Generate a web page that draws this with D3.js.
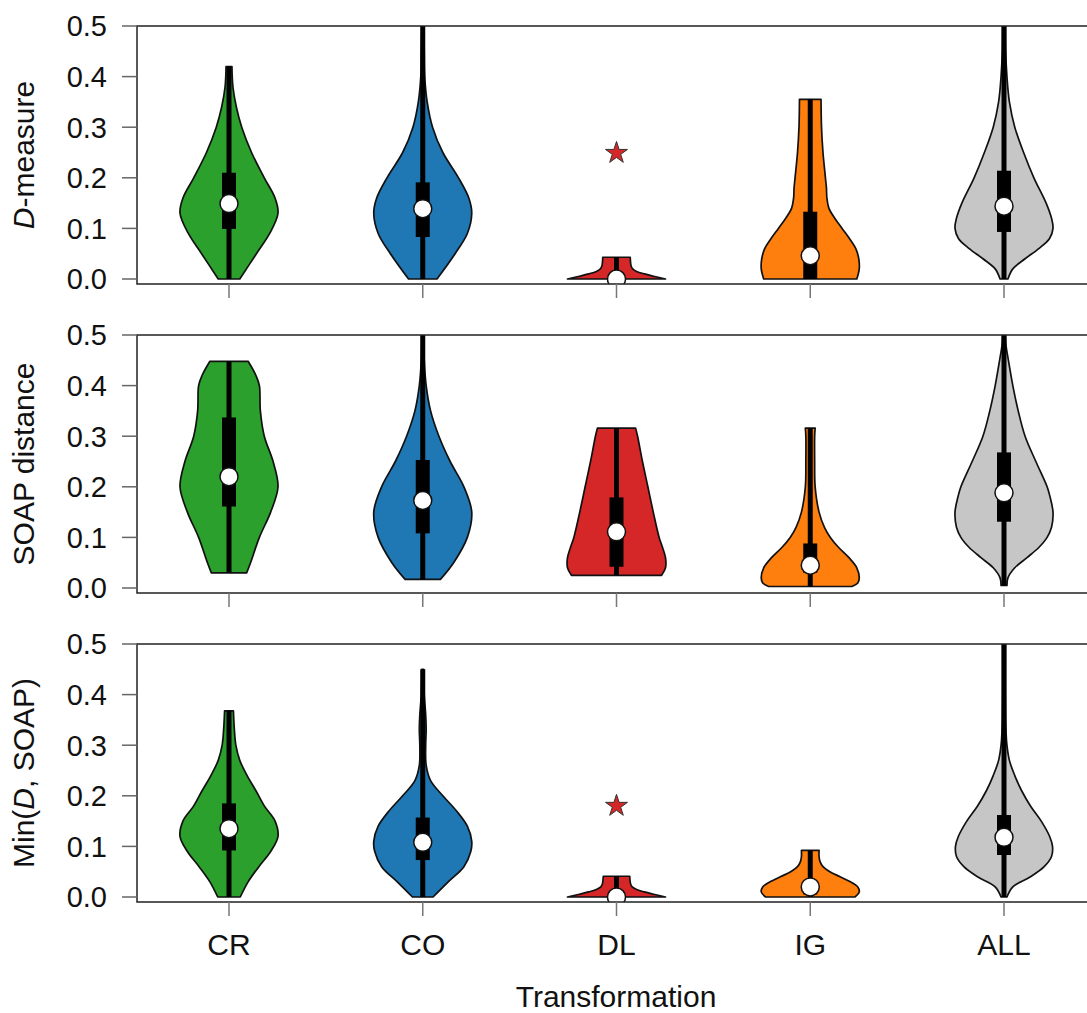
<!DOCTYPE html>
<html>
<head>
<meta charset="utf-8">
<script src="https://cdn.jsdelivr.net/npm/d3@7"></script>
<style>
  body { margin: 0; background: #fff; }
  text { font-family: "Liberation Sans", Arial, sans-serif; fill: #111; }
</style>
</head>
<body>
<script>
var w = 1087;
var h = 1013;

// categories and colours
var categories = ["CR", "CO", "DL", "IG", "ALL"];
var colors = ["#2ca02c", "#1f77b4", "#d62728", "#ff7f0e", "#c6c6c6"];
var yTicks = [0, 0.1, 0.2, 0.3, 0.4, 0.5];

// violin outlines: [value, relative density (max = 100)]
var dmeasureViolins = [
  [[0,22],[0.05,56],[0.09,83],[0.13,100],[0.16,94],[0.2,72],[0.25,46],[0.3,26],[0.34,15],[0.38,8],[0.42,6]],
  [[0,29],[0.05,66],[0.09,91],[0.13,100],[0.16,94],[0.2,73],[0.25,41],[0.3,20],[0.35,9],[0.4,4],[0.45,3],[0.5,2]],
  [[0,100],[0.005,78],[0.01,57],[0.015,41],[0.02,33],[0.025,30],[0.043,28]],
  [[0,95],[0.02,100],[0.04,99],[0.06,93],[0.08,80],[0.1,65],[0.12,50],[0.14,38],[0.16,34],[0.18,33],[0.2,31],[0.25,26],[0.3,23],[0.355,22]],
  [[0,8],[0.02,18],[0.04,43],[0.06,71],[0.08,93],[0.1,100],[0.12,97],[0.15,86],[0.2,61],[0.25,40],[0.3,22],[0.35,11],[0.4,6],[0.45,3.5],[0.5,3]]
];
var soapViolins = [
  [[0.03,36],[0.05,44],[0.1,62],[0.15,85],[0.2,100],[0.25,90],[0.3,72],[0.35,64],[0.4,62],[0.42,55],[0.448,39]],
  [[0.017,36],[0.05,63],[0.1,91],[0.15,100],[0.2,84],[0.25,56],[0.3,33],[0.35,16],[0.4,7],[0.45,3],[0.5,2]],
  [[0.025,92],[0.04,100],[0.06,100],[0.08,94],[0.1,87],[0.15,75],[0.2,64],[0.25,53],[0.3,43],[0.316,39]],
  [[0.003,85],[0.01,97],[0.02,100],[0.04,95],[0.06,79],[0.08,58],[0.1,41],[0.12,29],[0.15,18],[0.2,10],[0.25,9],[0.3,9],[0.316,10]],
  [[0.005,6],[0.02,8],[0.04,22],[0.06,47],[0.08,71],[0.1,88],[0.12,97],[0.15,100],[0.18,94],[0.2,88],[0.25,65],[0.3,43],[0.35,29],[0.4,18],[0.45,9],[0.48,4],[0.5,3]]
];
var minViolins = [
  [[0,23],[0.03,39],[0.06,61],[0.09,85],[0.12,100],[0.15,94],[0.18,72],[0.21,55],[0.24,37],[0.27,22],[0.3,14],[0.33,11],[0.368,9]],
  [[0,21],[0.03,52],[0.06,84],[0.09,98],[0.11,100],[0.14,91],[0.17,69],[0.2,41],[0.23,16],[0.26,7],[0.3,6],[0.33,7],[0.36,6],[0.4,3],[0.45,2]],
  [[0,100],[0.005,78],[0.01,57],[0.015,41],[0.02,32],[0.025,29],[0.041,27]],
  [[0,91],[0.01,100],[0.02,97],[0.03,82],[0.04,61],[0.05,40],[0.06,26],[0.07,20],[0.08,18],[0.092,18]],
  [[0,6],[0.02,18],[0.04,54],[0.06,82],[0.08,97],[0.1,99],[0.12,93],[0.15,76],[0.18,54],[0.21,36],[0.24,22],[0.27,11],[0.3,6],[0.33,4],[0.4,3],[0.5,3]]
];

// box stats: [whisker low, q1, median, q3, whisker high]
var dmeasureStats = [[0,0.099,0.149,0.21,0.42],[0,0.083,0.139,0.191,0.5],[0,0,0,0.004,0.043],[0,0,0.046,0.133,0.355],[0,0.093,0.144,0.214,0.5]];
var soapStats = [[0.03,0.161,0.22,0.337,0.448],[0.017,0.108,0.173,0.253,0.5],[0.025,0.042,0.111,0.179,0.316],[0.003,0.03,0.045,0.088,0.316],[0.005,0.131,0.188,0.268,0.5]];
var minStats = [[0,0.092,0.135,0.185,0.368],[0,0.073,0.108,0.157,0.45],[0,0,0,0.004,0.041],[0,0.005,0.02,0.032,0.092],[0,0.083,0.118,0.162,0.5]];

// outliers (stars): [category, value]
var dmeasureStars = [["DL", 0.249]];
var soapStars = [];
var minStars = [["DL", 0.18]];

var panels = [
  {label: [["D", true], ["-measure", false]], violins: dmeasureViolins, stats: dmeasureStats, stars: dmeasureStars, top: 26, bottom: 279},
  {label: [["SOAP distance", false]], violins: soapViolins, stats: soapStats, stars: soapStars, top: 335, bottom: 588},
  {label: [["Min(", false], ["D", true], [", SOAP)", false]], violins: minViolins, stats: minStats, stars: minStars, top: 644, bottom: 897}
];

var svg = d3.select("body")
            .append("svg")
            .attr("width", w)
            .attr("height", h);

var axisX = 137;
var rightX = 1096;
var xScale = d3.scalePoint()
               .domain(categories)
               .range([229, 1004]);
var wScale = d3.scaleLinear()
               .domain([0, 100])
               .range([0, 49]);

panels.forEach(function(p, pi) {
    var yScale = d3.scaleLinear()
                   .domain([0, 0.5])
                   .range([p.bottom, p.top]);
    var frameBottom = p.bottom + 5;

    var g = svg.append("g");

    svg.append("clipPath")
        .attr("id", "clip" + pi)
        .append("rect")
        .attr("x", axisX)
        .attr("y", p.top)
        .attr("width", rightX - axisX)
        .attr("height", frameBottom - p.top);

    var plot = g.append("g").attr("clip-path", "url(#clip" + pi + ")");

    // violins
    categories.forEach(function(c, i) {
        var cx = xScale(c);
        var area = d3.area()
                     .curve(d3.curveCatmullRom.alpha(0.5))
                     .y(function(d) { return yScale(d[0]); })
                     .x0(function(d) { return cx - wScale(d[1]); })
                     .x1(function(d) { return cx + wScale(d[1]); });
        plot.append("path")
            .datum(p.violins[i])
            .attr("d", area)
            .attr("fill", colors[i])
            .attr("stroke", "#111")
            .attr("stroke-width", 1.7)
            .attr("stroke-linejoin", "round");

        var s = p.stats[i];
        plot.append("line")
            .attr("x1", cx).attr("x2", cx)
            .attr("y1", yScale(s[0])).attr("y2", yScale(s[4]))
            .attr("stroke", "#000")
            .attr("stroke-width", 5);
        plot.append("rect")
            .attr("x", cx - 7)
            .attr("width", 14)
            .attr("y", yScale(s[3]))
            .attr("height", Math.max(0, yScale(s[1]) - yScale(s[3])))
            .attr("fill", "#000");
        plot.append("circle")
            .attr("cx", cx)
            .attr("cy", yScale(s[2]))
            .attr("r", 9)
            .attr("fill", "#fff")
            .attr("stroke", "#111")
            .attr("stroke-width", 1.5);
    });

    // stars
    plot.selectAll(".star")
        .data(p.stars)
        .enter()
        .append("path")
        .attr("class", "star")
        .attr("d", d3.symbol(d3.symbolStar, 150))
        .attr("transform", function(d) { return "translate(" + xScale(d[0]) + "," + yScale(d[1]) + ")"; })
        .attr("fill", "#d62728")
        .attr("stroke", "#333")
        .attr("stroke-width", 1);

    // frame (left, top, bottom)
    g.append("path")
        .attr("d", "M" + rightX + "," + p.top + "H" + axisX + "V" + frameBottom + "H" + rightX)
        .attr("fill", "none")
        .attr("stroke", "#222")
        .attr("stroke-width", 1.5);

    // y ticks
    g.selectAll(".ytick")
        .data(yTicks)
        .enter()
        .append("line")
        .attr("x1", axisX - 15).attr("x2", axisX)
        .attr("y1", function(d) { return yScale(d); })
        .attr("y2", function(d) { return yScale(d); })
        .attr("stroke", "#666")
        .attr("stroke-width", 1.5);
    g.selectAll(".ylab")
        .data(yTicks)
        .enter()
        .append("text")
        .attr("x", 107)
        .attr("y", function(d) { return yScale(d); })
        .attr("dy", "0.36em")
        .attr("text-anchor", "end")
        .attr("font-size", "29px")
        .text(function(d) { return d3.format(".1f")(d); });

    // x ticks
    g.selectAll(".xtick")
        .data(categories)
        .enter()
        .append("line")
        .attr("x1", function(d) { return xScale(d); })
        .attr("x2", function(d) { return xScale(d); })
        .attr("y1", frameBottom)
        .attr("y2", frameBottom + 14)
        .attr("stroke", "#777")
        .attr("stroke-width", 1.5);

    // y title
    var t = g.append("text")
        .attr("transform", "translate(34," + ((p.top + frameBottom) / 2) + ") rotate(-90)")
        .attr("text-anchor", "middle")
        .attr("font-size", "30px");
    p.label.forEach(function(part) {
        t.append("tspan")
         .attr("font-style", part[1] ? "italic" : "normal")
         .text(part[0]);
    });

    // category labels below the last panel
    if (pi === panels.length - 1) {
        g.selectAll(".xlab")
            .data(categories)
            .enter()
            .append("text")
            .attr("x", function(d) { return xScale(d); })
            .attr("y", 955)
            .attr("text-anchor", "middle")
            .attr("font-size", "30px")
            .text(function(d) { return d; });
    }
});

svg.append("text")
    .attr("x", 616)
    .attr("y", 1007)
    .attr("text-anchor", "middle")
    .attr("font-size", "30px")
    .text("Transformation");
</script>
</body>
</html>
